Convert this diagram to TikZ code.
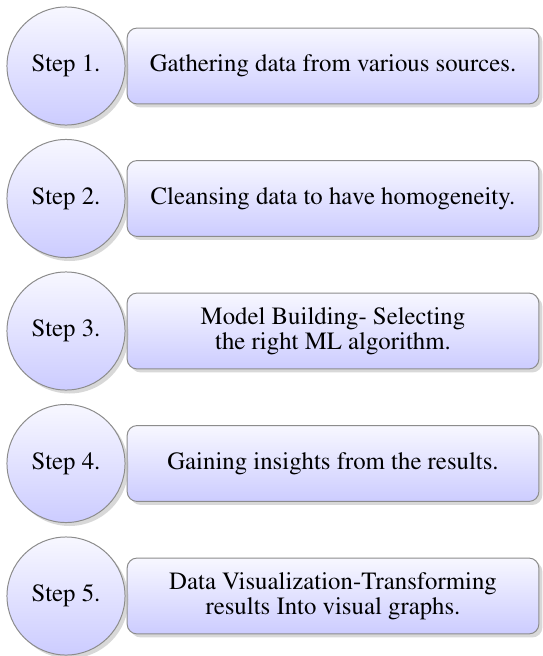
\documentclass[tikz,border=0pt]{standalone}
\usepackage[T1]{fontenc}
\usepackage{times}
\usetikzlibrary{shadows}

\begin{document}
\begin{tikzpicture}[
		x=0.4032pt, y=-0.4032pt,
		title circle/.style={circle, draw=gray!90, line width=0.4pt, top color=blue!3, bottom color=blue!20, minimum size=47.6pt, inner sep=0pt, font=\fontsize{10}{10.1}\selectfont, drop shadow={shadow xshift=1.4pt, shadow yshift=-1.4pt, fill=gray!60}},
		desc box/.style={rectangle, rounded corners=4pt, draw=gray!90, line width=0.4pt, top color=blue!3, bottom color=blue!20, minimum width=166pt, minimum height=30.6pt, inner sep=0pt, align=center, font=\fontsize{10}{10.1}\selectfont, drop shadow={shadow xshift=1.4pt, shadow yshift=-1.4pt, fill=gray!60}}
		]
		
		\useasboundingbox (0,0) rectangle (542,656);
		
		% ---------------------------------------------------------
		% Descriptions (boxes first, so the circles sit on top)
		% ---------------------------------------------------------
		\foreach \i/\y/\txt in {
			1/66/{Gathering data from various sources.},
			2/198.5/{Cleansing data to have homogeneity.},
			3/331/{Model Building- Selecting\\the right ML algorithm.},
			4/463.5/{Gaining insights from the results.},
			5/596/{Data Visualization-Transforming\\results Into visual graphs.}} {
			\node[desc box] (desc\i) at (333, \y) {\txt};
		}
		
		% ---------------------------------------------------------
		% Step circles
		% ---------------------------------------------------------
		\foreach \i/\y in {1/66, 2/198.5, 3/331, 4/463.5, 5/596} {
			\node[title circle] (step\i) at (66, \y) {Step \i.};
		}
		
	\end{tikzpicture}
\end{document}
